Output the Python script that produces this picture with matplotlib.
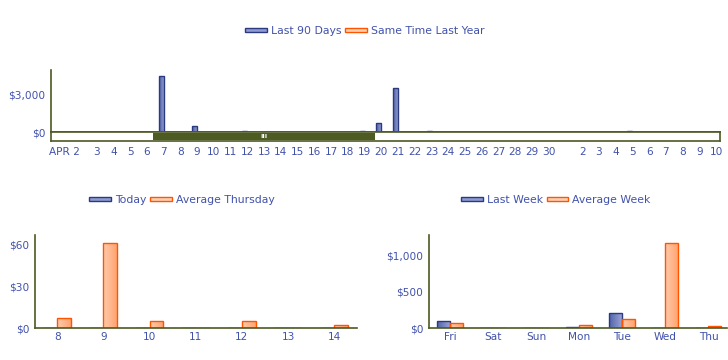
import numpy as np
import matplotlib
matplotlib.use('Agg')
import matplotlib.pyplot as plt
from matplotlib.patches import Patch
from matplotlib.colors import LinearSegmentedColormap

plt.rcParams['font.family'] = ['DejaVu Sans']

# --- data ---
day_labels = ['', 'APR 2'] + [str(d) for d in range(3, 31)] + [''] + [str(d) for d in range(2, 11)]
last_90 = [0, 0, 0, 0, 0, 0, 4540, 0, 490, 0, 0, 80, 0, 0, 0, 0, 0, 0, 70, 730,
           3570, 0, 70, 0, 0, 0, 0, 0, 0, 0, 0, 0, 0, 0, 70, 0, 0, 0, 0, 0]
last_year = [0] * 40

hours = ['8', '9', '10', '11', '12', '13', '14']
today = [0, 0, 0, 0, 0, 0, 0]
avg_thursday = [7.2, 61.4, 5.3, 0, 5.3, 0, 2.4]

weekdays = ['Fri', 'Sat', 'Sun', 'Mon', 'Tue', 'Wed', 'Thu']
last_week = [101, 0, 0, 15, 211, 0, 0]
avg_week = [73, 0, 0, 45, 128, 1174, 28]

BLUE_FILL = '#6474b4'
BLUE_EDGE = '#2b3a80'
ORANGE_FILL = '#ffb384'
ORANGE_EDGE = '#ff5400'
OLIVE = '#4d5a22'
TEXT = '#4152ab'
W = 0.3

blue_cm = LinearSegmentedColormap.from_list('b', ['#5262a8', '#98a3d4'])
orange_cm = LinearSegmentedColormap.from_list('o', ['#ffcbad', '#ffa470'])

fig = plt.figure(figsize=(7.28, 3.6), dpi=100)


def style(ax, pad_x=3, pad_y=4):
    for s in ['top', 'right']:
        ax.spines[s].set_visible(False)
    for s in ['left', 'bottom']:
        ax.spines[s].set_color(OLIVE)
        ax.spines[s].set_linewidth(1.2)
        ax.spines[s].set_zorder(5)
    ax.tick_params(axis='both', length=0, labelsize=7.6, labelcolor=TEXT)
    ax.tick_params(axis='x', pad=pad_x)
    ax.tick_params(axis='y', pad=pad_y)


def gradient_bars(ax, x, vals, cmap, fill, edge):
    grad = np.linspace(0, 1, 64).reshape(1, -1)
    cont = ax.bar(x, vals, W, color=fill, edgecolor='none', zorder=2)
    for rect, v in zip(cont, vals):
        if v <= 0:
            continue
        x0 = rect.get_x()
        im = ax.imshow(grad, extent=[x0, x0 + W, 0, v], aspect='auto', cmap=cmap,
                       zorder=3, interpolation='bicubic')
        im.set_clip_path(rect)
    ax.bar(x, vals, W, facecolor='none', edgecolor=edge, linewidth=1, zorder=4)


def bars(ax, a, b):
    x = np.arange(len(a))
    gradient_bars(ax, x - W / 2, a, blue_cm, BLUE_FILL, BLUE_EDGE)
    gradient_bars(ax, x + W / 2, b, orange_cm, ORANGE_FILL, ORANGE_EDGE)


def legend(labels, cx, cy):
    fig.legend(handles=[Patch(facecolor='#8f9bd0', edgecolor=BLUE_EDGE, label=labels[0]),
                        Patch(facecolor='#ffd2b8', edgecolor=ORANGE_EDGE, label=labels[1])],
               loc='center', bbox_to_anchor=(cx / 728, 1 - cy / 360), ncol=2, frameon=False,
               fontsize=7.8, labelcolor=TEXT, handlelength=2.0, handleheight=0.25,
               handletextpad=0.4, columnspacing=0.3)


# --- top chart ---
ax1 = fig.add_axes([51 / 728, 1 - 132 / 360, 669 / 728, 62 / 360])
style(ax1)
bars(ax1, last_90, last_year)
ax1.set_xlim(-0.73, 39.23)
ax1.set_ylim(0, 5000)
ax1.set_yticks([0, 3000])
ax1.set_yticklabels(['$0', '$3,000'])
ax1.set_xticks([])

sc = fig.add_axes([51 / 728, 1 - 141 / 360, 669 / 728, 9 / 360])
sc.set_xlim(ax1.get_xlim())
sc.set_ylim(0, 1)
for s in sc.spines.values():
    s.set_color(OLIVE)
    s.set_linewidth(1.2)
sc.set_yticks([])
sc.set_xticks(np.arange(len(day_labels)))
sc.set_xticklabels(day_labels)
sc.tick_params(axis='x', length=0, labelsize=7.6, labelcolor=TEXT, pad=4)
sc.get_xticklabels()[1].set_horizontalalignment('right')
sc.get_xticklabels()[1].set_x(1.25)
sc.barh(0.5, 18.62 - 5.36, height=0.75, left=5.36, color=OLIVE)
sc.text((5.36 + 18.62) / 2, 0.45, 'III', color='white', fontsize=4.5,
        ha='center', va='center', fontweight='bold')

legend(['Last 90 Days', 'Same Time Last Year'], 365, 31)

# --- bottom left ---
ax2 = fig.add_axes([35 / 728, 1 - 328 / 360, 322 / 728, 93 / 360])
style(ax2)
bars(ax2, today, avg_thursday)
ax2.set_xlim(-0.48, 6.49)
ax2.set_ylim(0, 67)
ax2.set_xticks(np.arange(len(hours)))
ax2.set_xticklabels(hours)
ax2.set_yticks([0, 30, 60])
ax2.set_yticklabels(['$0', '$30', '$60'])

legend(['Today', 'Average Thursday'], 182, 200)

# --- bottom right ---
ax3 = fig.add_axes([429 / 728, 1 - 328 / 360, 298 / 728, 93 / 360])
style(ax3)
bars(ax3, last_week, avg_week)
ax3.set_xlim(-0.49, 6.43)
ax3.set_ylim(0, 1289)
ax3.set_xticks(np.arange(len(weekdays)))
ax3.set_xticklabels(weekdays)
ax3.set_yticks([0, 500, 1000])
ax3.set_yticklabels(['$0', '$500', '$1,000'])

legend(['Last Week', 'Average Week'], 556, 200)

fig.savefig('out.png', dpi=100)
